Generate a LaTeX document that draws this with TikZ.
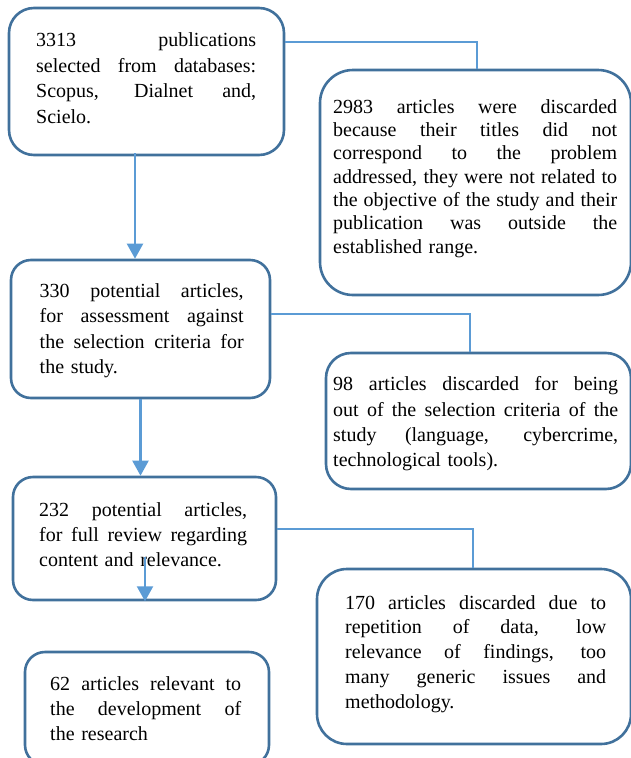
\documentclass[tikz,border=0pt]{standalone}
\usepackage{fontspec}
\setmainfont{Liberation Serif}
\usetikzlibrary{arrows.meta}
\definecolor{boxc}{HTML}{41719C}
\definecolor{conc}{HTML}{5B9BD5}
\newcommand{\JL}[2]{\leavevmode\hbox to #1{\spaceskip=0.25em plus 3em minus 0.05em\relax #2}}
\tikzset{
  boxnode/.style={draw=boxc, line width=2.6pt, rectangle, inner sep=0pt, fill=white},
  txt/.style={anchor=base west, inner sep=0pt, align=left, text=black},
  conn/.style={draw=conc, line width=2pt},
  arr/.style={draw=conc, line width=2.2pt, -{Triangle[width=16pt,length=15pt,fill=conc]}}
}
\begin{document}
\begin{tikzpicture}[x=1pt,y=1pt]
\useasboundingbox (0,0) rectangle (630,-758);
% boxes
\node[boxnode, rounded corners=25pt, minimum width=275pt, minimum height=147pt] (b1) at (146.5,-81.5) {};
\node[boxnode, rounded corners=33pt, minimum width=311pt, minimum height=225pt] (r1) at (475.5,-182.5) {};
\node[boxnode, rounded corners=20pt, minimum width=259pt, minimum height=138pt] (b2) at (140.5,-329) {};
\node[boxnode, rounded corners=25pt, minimum width=305pt, minimum height=136pt] (r2) at (478.5,-421) {};
\node[boxnode, rounded corners=20pt, minimum width=263pt, minimum height=123pt] (b3) at (144.5,-538.5) {};
\node[boxnode, rounded corners=30pt, minimum width=314pt, minimum height=175pt] (r3) at (474,-656.5) {};
\node[boxnode, rounded corners=20pt, minimum width=244pt, minimum height=113pt] (b4) at (147,-708.5) {};
% texts
\node[txt, text width=220pt, font=\fontsize{20}{25.5}\selectfont] (t1) at (36,-46.5)
  {\JL{220pt}{3313 publications}\\\JL{220pt}{selected from databases:}\\\JL{220pt}{Scopus, Dialnet and,}\\Scielo.};
\node[txt, text width=284pt, font=\fontsize{20}{23.3}\selectfont] (tr1) at (333,-113.3)
  {\JL{284pt}{2983 articles were discarded}\\\JL{284pt}{because their titles did not}\\\JL{284pt}{correspond to the problem}\\\JL{284pt}{addressed, they were not related to}\\\JL{284pt}{the objective of the study and their}\\\JL{284pt}{publication was outside the}\\established range.};
\node[txt, text width=204pt, font=\fontsize{20}{25.5}\selectfont] (t2) at (39.5,-297)
  {\JL{204pt}{330 potential articles,}\\\JL{204pt}{for assessment against}\\\JL{204pt}{the selection criteria for}\\the study.};
\node[txt, text width=285pt, font=\fontsize{20}{25.3}\selectfont] (tr2) at (333,-390.7)
  {\JL{285pt}{98 articles discarded for being}\\\JL{285pt}{out of the selection criteria of the}\\\JL{285pt}{study (language, cybercrime,}\\technological tools).};
\node[txt, text width=208pt, font=\fontsize{20}{25}\selectfont] (t3) at (39,-516)
  {\JL{208pt}{232 potential articles,}\\\JL{208pt}{for full review regarding}\\content and relevance.};
\node[txt, text width=261pt, font=\fontsize{20}{24.8}\selectfont] (tr3) at (345,-609)
  {\JL{261pt}{170 articles discarded due to}\\\JL{261pt}{repetition of data, low}\\\JL{261pt}{relevance of findings, too}\\\JL{261pt}{many generic issues and}\\methodology.};
\node[txt, text width=191pt, font=\fontsize{20}{25}\selectfont] (t4) at (50,-690)
  {\JL{191pt}{62 articles relevant to}\\\JL{191pt}{the development of}\\the research};
% side connectors
\draw[conn] ([yshift=39.5pt]b1.east) -| ([xshift=1.5pt]r1.north);
\draw[conn] ([yshift=15pt]b2.east) -| ([xshift=-8.5pt]r2.north);
\draw[conn] ([yshift=10pt]b3.east) -| ([xshift=-1pt]r3.north);
% down arrows
\coordinate (a1s) at ([xshift=-11.5pt,yshift=3pt]b1.south);
\draw[arr] (a1s) -- (a1s |- b2.north);
\draw[arr] (b2.south) -- (b2.south |- b3.north);
\coordinate (a3s) at (145,-557);
\draw[arr] (a3s) -- (a3s |- b3.south);
\end{tikzpicture}
\end{document}
